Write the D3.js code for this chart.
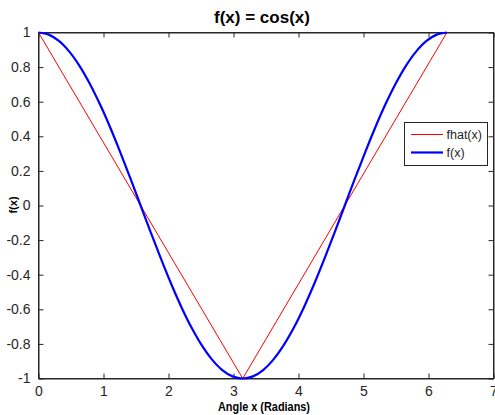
<!DOCTYPE html>
<html>
<head>
<meta charset="utf-8">
<script src="https://cdn.jsdelivr.net/npm/d3@7"></script>
<style>
  html, body { margin: 0; padding: 0; background: #fff; }
  svg { display: block; font-family: "Liberation Sans", Arial, sans-serif; }
</style>
</head>
<body>
<svg id="chart" width="495" height="415"></svg>
<script>
// ---- data ----
const xTicks = [0, 1, 2, 3, 4, 5, 6, 7];
const yTicks = [-1, -0.8, -0.6, -0.4, -0.2, 0, 0.2, 0.4, 0.6, 0.8, 1];

const fhatX = [0, 1.571, 3.142, 4.712, 6.283];
const fhatY = [1, 0, -1, 0, 1];

const fX = [0, 0.157, 0.314, 0.471, 0.628, 0.785, 0.942, 1.100, 1.257, 1.414,
            1.571, 1.728, 1.885, 2.042, 2.199, 2.356, 2.513, 2.670, 2.827, 2.985,
            3.142, 3.299, 3.456, 3.613, 3.770, 3.927, 4.084, 4.241, 4.398, 4.555,
            4.712, 4.869, 5.027, 5.184, 5.341, 5.498, 5.655, 5.812, 5.969, 6.126, 6.283];
const fY = [1, 0.9877, 0.9511, 0.8910, 0.8090, 0.7071, 0.5878, 0.4540, 0.3090, 0.1564,
            0, -0.1564, -0.3090, -0.4540, -0.5878, -0.7071, -0.8090, -0.8910, -0.9511, -0.9877,
            -1, -0.9877, -0.9511, -0.8910, -0.8090, -0.7071, -0.5878, -0.4540, -0.3090, -0.1564,
            0, 0.1564, 0.3090, 0.4540, 0.5878, 0.7071, 0.8090, 0.8910, 0.9511, 0.9877, 1];

const seriesNames = ["fhat(x)", "f(x)"];
const seriesColors = ["#ff0000", "#0000ff"];

// ---- layout ----
const L = 38.5, R = 493.5, T = 32.5, B = 378.5;
const svg = d3.select("#chart");
const x = d3.scaleLinear().domain([0, 7]).range([L, R]);
const y = d3.scaleLinear().domain([-1, 1]).range([B, T]);
const axisColor = "#262626";
const tickLen = 5;

// box
svg.append("rect").attr("x", L).attr("y", T).attr("width", R - L).attr("height", B - T)
  .attr("fill", "#fff").attr("stroke", axisColor).attr("stroke-width", 1);

// axes (ticks inward)
const fmt = d => String(+d.toFixed(1)).replace("\u2212", "-");
const gx = svg.append("g").attr("transform", `translate(0,${B})`)
  .call(d3.axisBottom(x).tickValues(xTicks).tickSizeInner(-tickLen).tickSizeOuter(0).tickPadding(8).tickFormat(d => String(d)));
const gxt = svg.append("g").attr("transform", `translate(0,${T})`)
  .call(d3.axisTop(x).tickValues(xTicks).tickSizeInner(-tickLen).tickSizeOuter(0).tickFormat(""));
const gy = svg.append("g").attr("transform", `translate(${L},0)`)
  .call(d3.axisLeft(y).tickValues(yTicks).tickSizeInner(-tickLen).tickSizeOuter(0).tickPadding(8).tickFormat(fmt));
const gyr = svg.append("g").attr("transform", `translate(${R},0)`)
  .call(d3.axisRight(y).tickValues(yTicks).tickSizeInner(-tickLen).tickSizeOuter(0).tickFormat(""));
[gx, gxt, gy, gyr].forEach(g => {
  g.select(".domain").attr("stroke", axisColor);
  g.selectAll(".tick line").attr("stroke", axisColor);
  g.selectAll(".tick text").attr("fill", axisColor)
    .style("font-size", "14px").style("font-family", "'Liberation Sans', Arial, sans-serif");
});

// lines
const line = d3.line().x(d => x(d[0])).y(d => y(d[1]));
svg.append("path")
  .datum(fhatX.map((v, i) => [v, fhatY[i]]))
  .attr("d", line)
  .attr("fill", "none").attr("stroke", seriesColors[0]).attr("stroke-width", 1);
svg.append("path")
  .datum(fX.map((v, i) => [v, fY[i]]))
  .attr("d", line.curve(d3.curveCatmullRom.alpha(0.5)))
  .attr("fill", "none").attr("stroke", seriesColors[1]).attr("stroke-width", 2.2);

// title
svg.append("text").attr("x", 262).attr("y", 23).attr("text-anchor", "middle")
  .style("font-size", "17px").style("font-weight", "bold").attr("fill", "#000")
  .text("f(x) = cos(x)");

// x axis label
svg.append("text").attr("x", 264).attr("y", 410.5).attr("text-anchor", "middle")
  .style("font-size", "12px").style("font-weight", "bold").attr("fill", "#000")
  .attr("textLength", 92).attr("lengthAdjust", "spacingAndGlyphs")
  .text("Angle x (Radians)");

// y axis label
svg.append("text").attr("transform", "translate(17,205) rotate(-90)").attr("text-anchor", "middle")
  .style("font-size", "11px").style("font-weight", "bold").attr("fill", "#000")
  .text("f(x)");

// legend
const lg = svg.append("g");
lg.append("rect").attr("x", 404.5).attr("y", 122.5).attr("width", 83).attr("height", 43)
  .attr("fill", "#fff").attr("stroke", axisColor).attr("stroke-width", 1);
const rows = [134.5, 152.5];
seriesNames.forEach((name, i) => {
  lg.append("line").attr("x1", 411).attr("x2", 443).attr("y1", rows[i]).attr("y2", rows[i])
    .attr("stroke", seriesColors[i]).attr("stroke-width", i === 0 ? 1 : 2.2);
  lg.append("text").attr("x", 446.5).attr("y", rows[i] + 4.5)
    .style("font-size", "12.5px").attr("fill", axisColor).text(name);
});
</script>
</body>
</html>
